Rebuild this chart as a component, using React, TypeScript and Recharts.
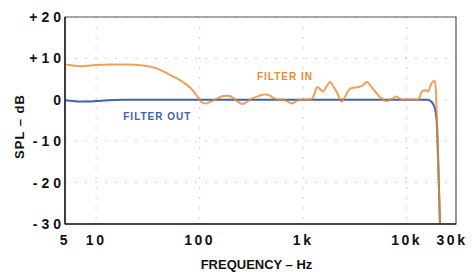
import React from "react";
import {
  LineChart,
  Line,
  XAxis,
  YAxis,
  CartesianGrid,
  ReferenceArea,
  ReferenceDot,
} from "recharts";

const freqTicks = [5, 10, 100, 1000, 10000, 30000];
const freqTickLabels = ["5", "10", "100", "1k", "10k", "30k"];
const splTicks = [-30, -20, -10, 0, 10, 20];
const splTickLabels = ["-30", "-20", "-10", "0", "+10", "+20"];

// FILTER IN response (Hz / dB)
const filterInHz = [
  5, 6, 7, 8, 10, 14, 20, 28, 35, 41, 50, 64, 75, 86, 95, 100, 106, 115, 130,
  150, 170, 190, 215, 235, 257, 285, 320, 370, 420, 460, 520, 580, 640, 700,
  780, 860, 950, 1100, 1217, 1300, 1370, 1460, 1550, 1680, 1820, 1980, 2150,
  2350, 2550, 2850, 3400, 3750, 4100, 4700, 5500, 6400, 7200, 8000, 9000,
  10000, 13000, 14000, 15500, 16200, 17000, 18700, 19200, 19800, 21000,
];
const filterInDb = [
  8.5, 8.3, 8.1, 8.2, 8.4, 8.5, 8.5, 8.3, 7.9, 7.3, 6.2, 4.8, 3.6, 2.3, 0.8, 0,
  -0.7, -0.9, -0.4, 0.4, 0.9, 1.0, 0.3, -0.5, -1.0, -0.5, 0.3, 0.9, 1.3, 1.2,
  0.4, 0, 0.1, -0.4, -0.9, -0.3, 0, 0, 0.2, 1.8, 3.1, 2.6, 2.0, 3.2, 4.3, 3.0,
  1.5, -0.5, 0.8, 2.7, 3.1, 3.4, 4.3, 2.7, 0.7, -0.3, 0.2, 0.8, 0, 0.1, 0, 2.0,
  2.3, 2.0, 3.5, 4.6, 2.0, -8, -30,
];

// FILTER OUT response (Hz / dB)
const filterOutHz = [
  5, 6, 7, 8, 10, 13, 18, 100, 1000, 5000, 10000, 16000, 17200, 18200, 18800,
  19500, 20200, 21000,
];
const filterOutDb = [
  -0.1, -0.3, -0.4, -0.4, -0.3, -0.1, 0, 0, 0, 0, 0, 0, -0.4, -1.2, -2.2, -5,
  -15, -30,
];

const filterInData = filterInHz.map((hz, i) => ({ hz, db: filterInDb[i] }));
const filterOutData = filterOutHz.map((hz, i) => ({ hz, db: filterOutDb[i] }));

const FONT = "'Liberation Sans', Arial, sans-serif";
const ORANGE = "#ea8a2c";
const BLUE = "#3f62ad";

const YTick = ({ x, y, payload }: any) => (
  <text
    x={x}
    y={y}
    dy={5}
    textAnchor="end"
    fontFamily={FONT}
    fontSize={14}
    fontWeight={700}
    letterSpacing={4}
    fill="#111"
  >
    {splTickLabels[splTicks.indexOf(payload.value)]}
  </text>
);

const XTick = ({ x, y, payload }: any) => (
  <text
    x={x}
    y={y}
    dy={21}
    textAnchor="middle"
    fontFamily={FONT}
    fontSize={14}
    fontWeight={700}
    letterSpacing={2.5}
    fill="#111"
  >
    {freqTickLabels[freqTicks.indexOf(payload.value)]}
  </text>
);

const flag = (text: string, color: string) => (props: any) => {
  const vb = props.viewBox;
  return (
    <text
      x={vb.x}
      y={vb.y}
      dy={4}
      textAnchor="middle"
      fontFamily={FONT}
      fontSize={10}
      fontWeight={700}
      letterSpacing={1}
      fill={color}
    >
      {text}
    </text>
  );
};

const yLabel = (props: any) => {
  const vb = props.viewBox;
  const cx = vb.x + 19;
  const cy = vb.y + vb.height / 2 + 6;
  return (
    <text
      x={cx}
      y={cy}
      dy={5}
      textAnchor="middle"
      transform={`rotate(-90, ${cx}, ${cy})`}
      fontFamily={FONT}
      fontSize={13}
      fontWeight={700}
      letterSpacing={1}
      fill="#111"
    >
      SPL – dB
    </text>
  );
};

const xLabel = (props: any) => {
  const vb = props.viewBox;
  return (
    <text
      x={vb.x + vb.width / 2 - 4}
      y={vb.y + vb.height - 3}
      textAnchor="middle"
      fontFamily={FONT}
      fontSize={13}
      fontWeight={700}
      fill="#111"
    >
      FREQUENCY – Hz
    </text>
  );
};

export default function App() {
  return (
    <div
      style={{
        position: "absolute",
        left: 0,
        top: 0,
        width: 472,
        height: 272,
        background: "#fff",
      }}
    >
      <LineChart
        width={472}
        height={272}
        margin={{ top: 17, right: 16, left: 0, bottom: 0 }}
      >
        <CartesianGrid stroke="#cfcfcf" strokeDasharray="2 8" />
        <XAxis
          dataKey="hz"
          type="number"
          scale="log"
          domain={[5, 30000]}
          ticks={freqTicks}
          allowDataOverflow
          height={48}
          tickSize={0}
          tickMargin={0}
          tick={<XTick />}
          axisLine={{ stroke: "#222", strokeWidth: 1.5 }}
          label={{ content: xLabel }}
        />
        <YAxis
          type="number"
          domain={[-30, 20]}
          ticks={splTicks}
          allowDataOverflow
          width={65}
          tickSize={0}
          tickMargin={0}
          tick={<YTick />}
          axisLine={{ stroke: "#222", strokeWidth: 1.5 }}
          label={{ content: yLabel }}
        />
        <ReferenceArea
          x1={5}
          x2={30000}
          y1={-30}
          y2={20}
          fill="none"
          stroke="#555"
          strokeWidth={1.2}
        />
        <Line
          data={filterOutData}
          dataKey="db"
          type="monotone"
          stroke={BLUE}
          strokeWidth={2}
          dot={false}
          isAnimationActive={false}
        />
        <Line
          data={filterInData}
          dataKey="db"
          type="monotone"
          stroke={ORANGE}
          strokeOpacity={0.8}
          strokeWidth={2}
          dot={false}
          isAnimationActive={false}
        />
        <ReferenceDot
          x={668}
          y={5.8}
          r={0}
          fill="none"
          stroke="none"
          label={{ content: flag("FILTER IN", ORANGE) }}
        />
        <ReferenceDot
          x={39}
          y={-3.9}
          r={0}
          fill="none"
          stroke="none"
          label={{ content: flag("FILTER OUT", BLUE) }}
        />
      </LineChart>
    </div>
  );
}
